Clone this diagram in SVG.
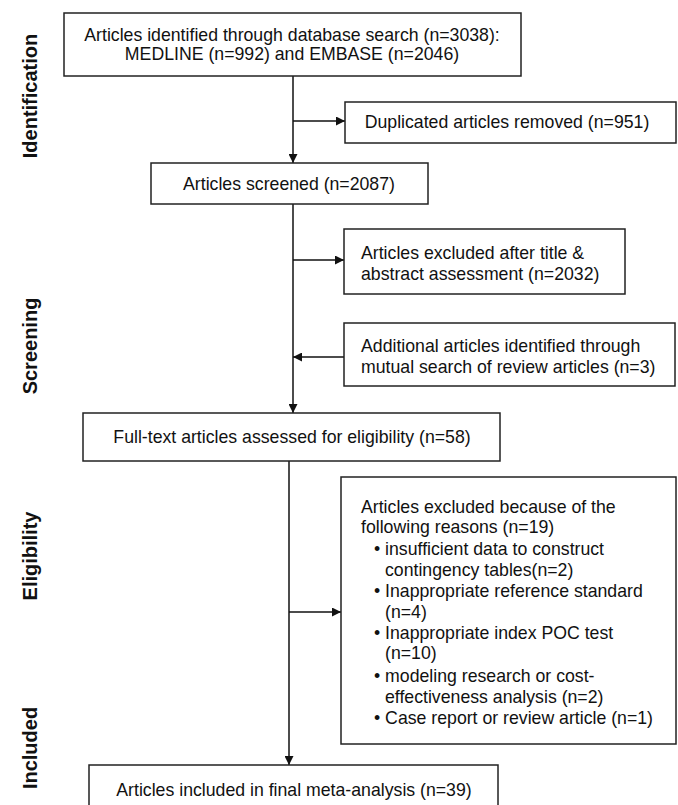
<svg xmlns="http://www.w3.org/2000/svg" width="678" height="805" viewBox="0 0 678 805">
<style>
.box{fill:#fff;stroke:#222;stroke-width:1.5}
.t{font-family:"Liberation Sans",Arial,sans-serif;font-size:17.7px;fill:#111}
.c{text-anchor:middle}
.lab{font-family:"Liberation Sans",Arial,sans-serif;font-size:20px;font-weight:bold;fill:#111;text-anchor:middle}
.ln{stroke:#111;stroke-width:1.5;fill:none}
</style>
<defs>
<marker id="ah" viewBox="0 0 10 10" refX="10" refY="5" markerWidth="9" markerHeight="9" markerUnits="userSpaceOnUse" orient="auto">
<path d="M0,0 L10,5 L0,10 Z" fill="#111"/>
</marker>
</defs>
<rect width="678" height="805" fill="#fff"/>
<g id="labels">
<text class="lab" transform="translate(37,96) rotate(-90)">Identification</text>
<text class="lab" transform="translate(37,346) rotate(-90)">Screening</text>
<text class="lab" transform="translate(37,556) rotate(-90)">Eligibility</text>
<text class="lab" transform="translate(37,748) rotate(-90)">Included</text>
</g>
<g id="connectors">
<line class="ln" x1="293" y1="76" x2="293" y2="163" marker-end="url(#ah)"/>
<line class="ln" x1="293" y1="121" x2="345" y2="121" marker-end="url(#ah)"/>
<line class="ln" x1="293" y1="204" x2="293" y2="413" marker-end="url(#ah)"/>
<line class="ln" x1="293" y1="260" x2="344" y2="260" marker-end="url(#ah)"/>
<line class="ln" x1="344" y1="357" x2="293" y2="357" marker-end="url(#ah)"/>
<line class="ln" x1="289" y1="461" x2="289" y2="765" marker-end="url(#ah)"/>
<line class="ln" x1="289" y1="612" x2="341" y2="612" marker-end="url(#ah)"/>
</g>
<g id="n1">
<rect class="box" x="64" y="13" width="457" height="63"/>
<text class="t c" x="292" y="41">Articles identified through database search (n=3038):</text>
<text class="t c" x="292" y="60">MEDLINE  (n=992) and EMBASE  (n=2046)</text>
</g>
<g id="n2">
<rect class="box" x="345" y="102" width="331" height="41"/>
<text class="t c" x="507" y="128">Duplicated articles removed (n=951)</text>
</g>
<g id="n3">
<rect class="box" x="151" y="163" width="277" height="41"/>
<text class="t c" x="289" y="190">Articles screened (n=2087)</text>
</g>
<g id="n4">
<rect class="box" x="344" y="229" width="281" height="65"/>
<text class="t" x="361" y="259">Articles excluded after title &amp;</text>
<text class="t" x="361" y="280">abstract assessment (n=2032)</text>
</g>
<g id="n5">
<rect class="box" x="344" y="323" width="331" height="63"/>
<text class="t" x="361" y="352">Additional articles identified through</text>
<text class="t" x="361" y="373">mutual search of review articles (n=3)</text>
</g>
<g id="n6">
<rect class="box" x="83" y="413" width="417" height="48"/>
<text class="t c" x="292" y="443">Full-text articles assessed for eligibility (n=58)</text>
</g>
<g id="n7">
<rect class="box" x="341" y="477" width="335" height="267"/>
<text class="t" x="361" y="513">Articles excluded because of the</text>
<text class="t" x="361" y="533">following reasons (n=19)</text>
<text class="t" x="374" y="555">• insufficient data to construct</text>
<text class="t" x="385" y="576">contingency tables(n=2)</text>
<text class="t" x="374" y="597">• Inappropriate reference standard</text>
<text class="t" x="385" y="618">(n=4)</text>
<text class="t" x="374" y="639">• Inappropriate index POC test</text>
<text class="t" x="385" y="659">(n=10)</text>
<text class="t" x="374" y="682">• modeling research or cost-</text>
<text class="t" x="385" y="703">effectiveness analysis (n=2)</text>
<text class="t" x="374" y="724">• Case report or review article (n=1)</text>
</g>
<g id="n8">
<rect class="box" x="89" y="765" width="409" height="50"/>
<text class="t c" x="294" y="796">Articles included in final meta-analysis (n=39)</text>
</g>
</svg>
